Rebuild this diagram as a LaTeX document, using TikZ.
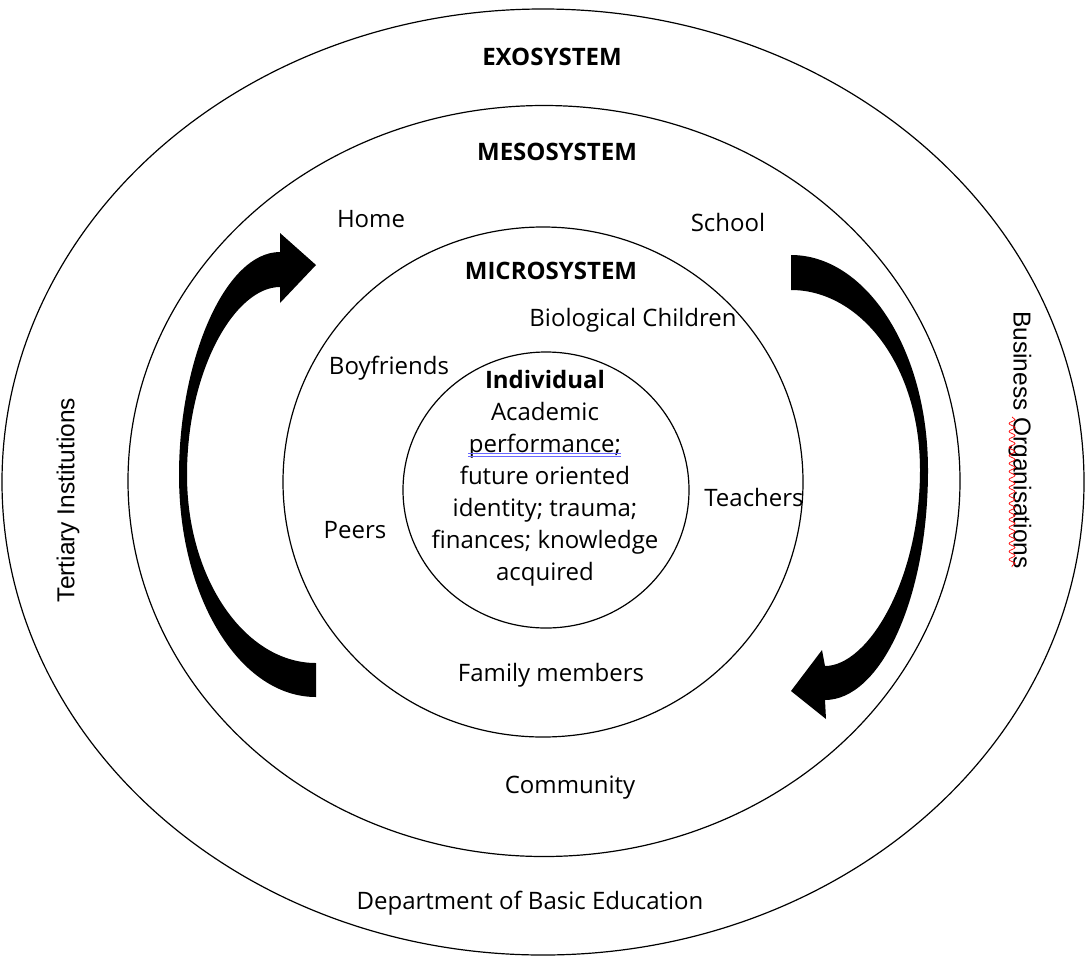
\documentclass[tikz,border=0pt]{standalone}
\usepackage{fontspec}
\setmainfont{Open Sans}
\newfontfamily\arialfont{Liberation Sans}
\usepackage{tikz}
\usetikzlibrary{shapes.geometric,decorations.pathmorphing}
\tikzset{
	ring/.style={draw, ellipse, inner sep=0pt, line width=1.2pt},
	lbl/.style={font=\fontsize{24}{30}\selectfont, inner sep=0pt, yshift=-2pt},
	sys/.style={font=\fontsize{24}{30}\selectfont\bfseries, inner sep=0pt},
	side/.style={font=\arialfont\fontsize{24.5}{28}\selectfont, inner sep=0pt},
	fat arrow/.style={fill=black, draw=none},
	spell/.style={line width=0.7pt}
}

\begin{document}
\begin{tikzpicture}[x=1pt, y=-1pt]
   \useasboundingbox (0,0) rectangle (1086,956);
   % the four systems
   \node[ring, minimum width=1082, minimum height=946] (exo) at (543,482) {};
   \node[ring, minimum width=832, minimum height=751] (meso) at (544,481) {};
   \node[ring, minimum width=520, minimum height=510] (micro) at (543,482) {};
   \node[ring, minimum width=286, minimum height=276] (indiv) at (546,490) {};

   \node[sys] (exoname) at (552,57) {EXOSYSTEM};
   \node[sys] (mesoname) at (557,152) {MESOSYSTEM};
   \node[sys] (microname) at (551,271) {MICROSYSTEM};

   \node[lbl] (home) at (371,217) {Home};
   \node[lbl] (school) at (728,220) {School};
   \node[lbl] (children) at (633,318) {Biological Children};
   \node[lbl] (boyfriends) at (389,366) {Boyfriends};
   \node[lbl] (teachers) at (754,495) {Teachers};
   \node[lbl] (peers) at (355,528) {Peers};
   \node[lbl] (family) at (551,673) {Family members};
   \node[lbl] (community) at (570,786) {Community};
   \node[lbl] (dbe) at (530,901) {Department of Basic Education};
   \node[side, rotate=90] (tertiary) at (68,500) {Tertiary Institutions};
   \node[side, rotate=-90] (business) at (1020,440) {Business Organisations};

   \node[font=\fontsize{24}{32}\selectfont, align=center, inner sep=0pt] (focus) at (545,478)
      {\textbf{Individual}\\Academic\\performance;\\future oriented\\identity; trauma;\\finances; knowledge\\acquired};

   % spell check marks
   \draw[spell, blue!60] (468,453) -- (621,453) (468,456) -- (621,456);
   \draw[spell, red, decorate, decoration={snake, amplitude=3pt, segment length=8pt}]
      (1012,417) -- (1012,567);

   % left arrow, up and to the right
   \path[fat arrow] (316,697) .. controls (240,697) and (179,598) .. (179,475)
      .. controls (179,360) and (225,252) .. (280,252) -- (280,233) -- (316,265) -- (280,303) -- (280,287)
      .. controls (235,287) and (187,370) .. (187,475)
      .. controls (187,579) and (245,663) .. (316,663) -- cycle;
   % right arrow, down and to the left
   \path[fat arrow] (791,255) .. controls (866,255) and (928,350) .. (928,470)
      .. controls (928,600) and (880,700) .. (825,700) -- (826,719) -- (791,691) -- (822,650) -- (825,666)
      .. controls (868,666) and (920,580) .. (920,470)
      .. controls (920,365) and (860,290) .. (791,290) -- cycle;
\end{tikzpicture}
\end{document}
